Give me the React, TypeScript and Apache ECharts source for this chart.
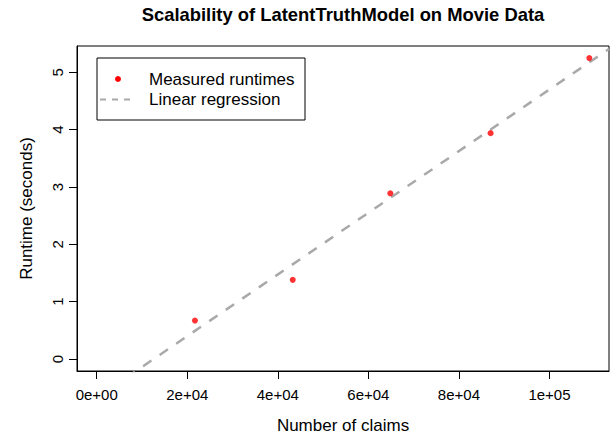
import React, { useEffect, useRef } from "react";
import * as echarts from "echarts";

// ---- data ----
const claims = [21700, 43300, 64850, 87000, 108800];
const runtimes = [0.67, 1.38, 2.89, 3.94, 5.25];
const xTicks = [0, 20000, 40000, 60000, 80000, 100000];
const xTickLabels = ["0e+00", "2e+04", "4e+04", "6e+04", "8e+04", "1e+05"];
const yTicks = [0, 1, 2, 3, 4, 5];
const yTickLabels = ["0", "1", "2", "3", "4", "5"];
const seriesNames = ["Measured runtimes", "Linear regression"];
const titleText = "Scalability of LatentTruthModel on Movie Data";
const xName = "Number of claims";
const yName = "Runtime (seconds)";

const FONT = "'Liberation Sans', Arial, Helvetica, sans-serif";

// least squares fit (what the original lm() line shows)
function fit(xs: number[], ys: number[]) {
  const n = xs.length;
  const mx = xs.reduce((a, b) => a + b, 0) / n;
  const my = ys.reduce((a, b) => a + b, 0) / n;
  let sxy = 0;
  let sxx = 0;
  for (let i = 0; i < n; i++) {
    sxy += (xs[i] - mx) * (ys[i] - my);
    sxx += (xs[i] - mx) * (xs[i] - mx);
  }
  const b = sxy / sxx;
  return { a: my - b * mx, b };
}

// R-style 4% axis extension of [0, max]
function rRange(lo: number, hi: number) {
  const pad = (hi - lo) * 0.04;
  return [lo - pad, hi + pad];
}

export default function App() {
  const ref = useRef<HTMLDivElement>(null);
  useEffect(() => {
    if (!ref.current) return;
    const chart = echarts.init(ref.current, null, { renderer: "svg" });
    const [xMin, xMax] = rRange(0, Math.max(...claims));
    const [yMin, yMax] = rRange(0, Math.max(...runtimes));
    const { a, b } = fit(claims, runtimes);
    const regLine = [
      [xMin, a + b * xMin],
      [xMax, a + b * xMax],
    ];

    chart.setOption({
      animation: false,
      backgroundColor: "#ffffff",
      title: {
        text: titleText,
        left: 343,
        top: 5,
        textAlign: "center",
        padding: 0,
        textStyle: { fontFamily: FONT, fontSize: 18.4, fontWeight: "bold", color: "#000" },
      },
      grid: {
        left: 77,
        right: 7,
        top: 46,
        bottom: 66,
        show: true,
        borderColor: "#000",
        borderWidth: 1,
        backgroundColor: "transparent",
      },
      xAxis: {
        type: "value",
        min: xMin,
        max: xMax,
        splitLine: { show: false },
        axisLine: { show: true, onZero: false, lineStyle: { color: "#000", width: 1 } },
        axisTick: {
          show: true,
          inside: false,
          length: 8,
          customValues: xTicks,
          lineStyle: { color: "#000", width: 1 },
        },
        axisLabel: {
          customValues: xTicks,
          margin: 16,
          fontFamily: FONT,
          fontSize: 15,
          color: "#000",
          formatter: (v: number) => {
            const i = xTicks.indexOf(v);
            return i >= 0 ? xTickLabels[i] : "";
          },
        },
        name: xName,
        nameLocation: "middle",
        nameGap: 46,
        nameTextStyle: { fontFamily: FONT, fontSize: 17, color: "#000" },
      },
      yAxis: {
        type: "value",
        min: yMin,
        max: yMax,
        splitLine: { show: false },
        axisLine: { show: true, onZero: false, lineStyle: { color: "#000", width: 1 } },
        axisTick: {
          show: true,
          inside: false,
          length: 8,
          customValues: yTicks,
          lineStyle: { color: "#000", width: 1 },
        },
        axisLabel: {
          customValues: yTicks,
          rotate: 90,
          margin: 12,
          fontFamily: FONT,
          fontSize: 15,
          color: "#000",
          formatter: (v: number) => {
            const i = yTicks.indexOf(v);
            return i >= 0 ? yTickLabels[i] : "";
          },
        },
        name: yName,
        nameLocation: "middle",
        nameGap: 42,
        nameTextStyle: { fontFamily: FONT, fontSize: 17, color: "#000" },
      },
      series: [
        {
          name: seriesNames[1],
          type: "line",
          data: regLine,
          symbol: "none",
          clip: true,
          lineStyle: { color: "#A9A9A9", width: 2.5, type: [10, 10] },
          z: 2,
        },
        {
          name: seriesNames[0],
          type: "scatter",
          data: claims.map((c, i) => [c, runtimes[i]]),
          symbol: "circle",
          symbolSize: 6,
          itemStyle: { color: "#FF0000" },
          z: 3,
        },
      ],
      graphic: [
        {
          type: "group",
          z: 10,
          children: [
            {
              type: "rect",
              shape: { x: 97, y: 58, width: 208, height: 62 },
              style: { fill: "#fff", stroke: "#000", lineWidth: 1 },
            },
            {
              type: "circle",
              shape: { cx: 118, cy: 79, r: 3 },
              style: { fill: "#FF0000" },
            },
            {
              type: "line",
              shape: { x1: 100, y1: 99.5, x2: 134, y2: 99.5 },
              style: { stroke: "#A9A9A9", lineWidth: 2, lineDash: [6, 6] },
            },
            {
              type: "text",
              x: 149,
              y: 79,
              style: {
                text: seriesNames[0],
                fontFamily: FONT,
                fontSize: 17,
                fill: "#000",
                verticalAlign: "middle",
              },
            },
            {
              type: "text",
              x: 149,
              y: 99.5,
              style: {
                text: seriesNames[1],
                fontFamily: FONT,
                fontSize: 17,
                fill: "#000",
                verticalAlign: "middle",
              },
            },
          ],
        },
      ],
    });
    return () => chart.dispose();
  }, []);
  return (
    <div
      ref={ref}
      style={{ position: "fixed", left: 0, top: 0, width: 616, height: 439, background: "#fff" }}
    />
  );
}
